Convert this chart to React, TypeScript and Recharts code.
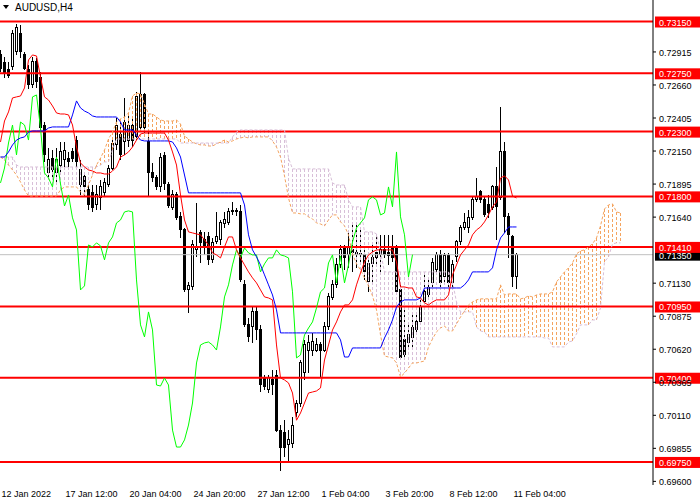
import React from 'react';
import { ComposedChart, Bar, Line, XAxis, YAxis, ReferenceLine } from 'recharts';

// ---- candles (AUDUSD H4) ----
const opens = [
  0.72892, 0.72830, 0.72776, 0.72799, 0.72915, 0.73061, 0.72892, 0.72776, 0.72660, 0.72838,
  0.72714, 0.72351, 0.71988, 0.72096, 0.71988, 0.72042, 0.72081, 0.72096, 0.72143, 0.72235,
  0.71888, 0.71950, 0.71850, 0.71827, 0.71734, 0.71788, 0.71827, 0.71888, 0.72019, 0.72197,
  0.72274, 0.72220, 0.72235, 0.72351, 0.72259, 0.72328, 0.72583, 0.72220, 0.71988, 0.71942,
  0.71873, 0.72112, 0.71888, 0.71711, 0.71811, 0.71642, 0.71541, 0.71078, 0.71101, 0.71387,
  0.71518, 0.71464, 0.71487, 0.71310, 0.71448, 0.71464, 0.71587, 0.71595, 0.71680, 0.71688,
  0.71680, 0.71117, 0.70808, 0.70792, 0.70908, 0.70769, 0.70398, 0.70306, 0.70383, 0.70421,
  0.69996, 0.69981, 0.69881, 0.69896, 0.70128, 0.70205, 0.70444, 0.70614, 0.70614, 0.70614,
  0.70653, 0.70614, 0.70792, 0.71016, 0.71117, 0.71271, 0.71402, 0.71348, 0.71387, 0.71364,
  0.71356, 0.71348, 0.71140, 0.71279, 0.71364, 0.71348, 0.71387, 0.71364, 0.71402, 0.71402,
  0.71078, 0.70692, 0.70669, 0.70707, 0.70769, 0.70831, 0.70985, 0.71039, 0.71132, 0.71232,
  0.71348, 0.71178, 0.71340, 0.71132, 0.71333, 0.71448, 0.71557, 0.71557, 0.71634, 0.71773,
  0.71834, 0.71773, 0.71734, 0.71711, 0.71873, 0.71788, 0.72143, 0.71642, 0.71487, 0.71178,
];
const highs = [
  0.72930, 0.72876, 0.72838, 0.73084, 0.73131, 0.73123, 0.72915, 0.72814, 0.72876, 0.72868,
  0.72760, 0.72374, 0.72174, 0.72158, 0.72174, 0.72220, 0.72220, 0.72143, 0.72174, 0.72266,
  0.72081, 0.71988, 0.71911, 0.71888, 0.71888, 0.71927, 0.71942, 0.72042, 0.72235, 0.72405,
  0.72390, 0.72560, 0.72429, 0.72405, 0.72606, 0.72760, 0.72598, 0.72297, 0.72058, 0.71965,
  0.72135, 0.72143, 0.71911, 0.71850, 0.71834, 0.71680, 0.71557, 0.71140, 0.71464, 0.71750,
  0.71541, 0.71526, 0.71526, 0.71479, 0.71680, 0.71618, 0.71680, 0.71711, 0.71757, 0.71711,
  0.71734, 0.71155, 0.70862, 0.70947, 0.70947, 0.70808, 0.70421, 0.70421, 0.70460, 0.70460,
  0.70035, 0.70072, 0.69996, 0.70097, 0.70228, 0.70537, 0.70692, 0.70730, 0.70746, 0.70707,
  0.70676, 0.70831, 0.71055, 0.71155, 0.71325, 0.71425, 0.71425, 0.71526, 0.71603, 0.71580,
  0.71557, 0.71402, 0.71325, 0.71425, 0.71503, 0.71503, 0.71503, 0.71503, 0.71503, 0.71425,
  0.71117, 0.70924, 0.70831, 0.70885, 0.70908, 0.71016, 0.71217, 0.71155, 0.71325, 0.71371,
  0.71387, 0.71364, 0.71364, 0.71310, 0.71464, 0.71580, 0.71672, 0.71696, 0.71796, 0.71942,
  0.71850, 0.71796, 0.71811, 0.71888, 0.72027, 0.72490, 0.72220, 0.71672, 0.71503, 0.71360,
];
const lows = [
  0.72760, 0.72714, 0.72714, 0.72776, 0.72892, 0.72868, 0.72776, 0.72629, 0.72637, 0.72637,
  0.72313, 0.72066, 0.71942, 0.71942, 0.71911, 0.71988, 0.72027, 0.72019, 0.72066, 0.72019,
  0.71811, 0.71796, 0.71696, 0.71680, 0.71696, 0.71696, 0.71796, 0.71873, 0.72004, 0.72158,
  0.72081, 0.72120, 0.72181, 0.72181, 0.72235, 0.72297, 0.72289, 0.71803, 0.71911, 0.71850,
  0.71834, 0.71850, 0.71711, 0.71696, 0.71618, 0.71479, 0.71063, 0.70900, 0.71078, 0.71333,
  0.71286, 0.71348, 0.71271, 0.71286, 0.71433, 0.71425, 0.71557, 0.71580, 0.71657, 0.71649,
  0.71140, 0.70792, 0.70676, 0.70669, 0.70692, 0.70290, 0.70306, 0.70282, 0.70267, 0.69981,
  0.69680, 0.69788, 0.69750, 0.69858, 0.70097, 0.70174, 0.70383, 0.70436, 0.70568, 0.70599,
  0.70398, 0.70599, 0.70769, 0.71001, 0.71093, 0.71248, 0.71232, 0.71248, 0.71217, 0.71248,
  0.71271, 0.71155, 0.71063, 0.71140, 0.71271, 0.71217, 0.71325, 0.71271, 0.71294, 0.71039,
  0.70537, 0.70537, 0.70614, 0.70630, 0.70730, 0.70808, 0.70962, 0.71001, 0.71101, 0.71217,
  0.71078, 0.71117, 0.71101, 0.71078, 0.71294, 0.71425, 0.71541, 0.71518, 0.71618, 0.71757,
  0.71750, 0.71642, 0.71634, 0.71696, 0.71464, 0.71773, 0.71518, 0.71325, 0.71101, 0.71086,
];
const closes = [
  0.72791, 0.72760, 0.72730, 0.73061, 0.73100, 0.72915, 0.72791, 0.72660, 0.72838, 0.72683,
  0.72328, 0.72120, 0.72081, 0.72004, 0.72081, 0.72143, 0.72158, 0.72073, 0.72096, 0.72066,
  0.72004, 0.71873, 0.71734, 0.71711, 0.71811, 0.71873, 0.71904, 0.72019, 0.72212, 0.72351,
  0.72120, 0.72374, 0.72351, 0.72235, 0.72568, 0.72583, 0.72328, 0.71981, 0.71942, 0.71873,
  0.72104, 0.71896, 0.71726, 0.71811, 0.71634, 0.71541, 0.71078, 0.71109, 0.71425, 0.71410,
  0.71441, 0.71418, 0.71310, 0.71441, 0.71487, 0.71595, 0.71618, 0.71680, 0.71688, 0.71680,
  0.71155, 0.70808, 0.70715, 0.70908, 0.70769, 0.70344, 0.70336, 0.70398, 0.70344, 0.69996,
  0.69865, 0.69865, 0.69920, 0.70035, 0.70205, 0.70514, 0.70653, 0.70669, 0.70676, 0.70653,
  0.70614, 0.70792, 0.71024, 0.71117, 0.71271, 0.71387, 0.71325, 0.71402, 0.71364, 0.71348,
  0.71348, 0.71217, 0.71279, 0.71325, 0.71325, 0.71387, 0.71348, 0.71340, 0.71325, 0.71063,
  0.70553, 0.70576, 0.70730, 0.70784, 0.70831, 0.70939, 0.71063, 0.71093, 0.71286, 0.71348,
  0.71132, 0.71340, 0.71132, 0.71271, 0.71448, 0.71557, 0.71595, 0.71634, 0.71773, 0.71796,
  0.71773, 0.71657, 0.71672, 0.71873, 0.71719, 0.72143, 0.71642, 0.71503, 0.71178, 0.71350,
];

// ---- Ichimoku ----
const tenkan = [
  0.72220, 0.72382, 0.72452, 0.72560, 0.72568, 0.72575, 0.72637, 0.72853, 0.72892, 0.72884,
  0.72722, 0.72568, 0.72544, 0.72498, 0.72444, 0.72436, 0.72436, 0.72429, 0.72351, 0.72181,
  0.72058, 0.72027, 0.72004, 0.71996, 0.71981, 0.71981, 0.71973, 0.71973, 0.71996, 0.72027,
  0.72104, 0.72120, 0.72143, 0.72181, 0.72235, 0.72282, 0.72289, 0.72289, 0.72289, 0.72289,
  0.72289, 0.72289, 0.72235, 0.72143, 0.72042, 0.71811, 0.71618, 0.71526, 0.71518, 0.71510,
  0.71503, 0.71464, 0.71425, 0.71364, 0.71348, 0.71325, 0.71410, 0.71487, 0.71487, 0.71387,
  0.71325, 0.71271, 0.71217, 0.71171, 0.71132, 0.71078, 0.71024, 0.71016, 0.71001, 0.70653,
  0.70398, 0.70383, 0.70360, 0.70282, 0.70072, 0.70128, 0.70205, 0.70282, 0.70290, 0.70298,
  0.70321, 0.70537, 0.70653, 0.70769, 0.70831, 0.70908, 0.70962, 0.70962, 0.71001, 0.71117,
  0.71209, 0.71294, 0.71348, 0.71371, 0.71387, 0.71387, 0.71387, 0.71387, 0.71387, 0.71294,
  0.71101, 0.71101, 0.71093, 0.71093, 0.71024, 0.71016, 0.70978, 0.70962, 0.70985, 0.71001,
  0.71001, 0.71001, 0.71039, 0.71194, 0.71271, 0.71348, 0.71387, 0.71425, 0.71503, 0.71541,
  0.71564, 0.71603, 0.71657, 0.71719, 0.71757, 0.71942, 0.71958, 0.71927, 0.71803, 0.71788,
];
const kijun = [
  0.72104, 0.72104, 0.72143, 0.72197, 0.72235, 0.72251, 0.72259, 0.72297, 0.72305, 0.72305,
  0.72305, 0.72305, 0.72328, 0.72336, 0.72336, 0.72336, 0.72336, 0.72336, 0.72429, 0.72537,
  0.72483, 0.72459, 0.72444, 0.72421, 0.72413, 0.72413, 0.72413, 0.72413, 0.72413, 0.72413,
  0.72374, 0.72313, 0.72313, 0.72313, 0.72274, 0.72235, 0.72228, 0.72228, 0.72228, 0.72228,
  0.72228, 0.72228, 0.72228, 0.72220, 0.72174, 0.72104, 0.71965, 0.71827, 0.71827, 0.71827,
  0.71827, 0.71827, 0.71827, 0.71827, 0.71827, 0.71827, 0.71827, 0.71827, 0.71827, 0.71827,
  0.71827, 0.71734, 0.71503, 0.71387, 0.71333, 0.71271, 0.71194, 0.71117, 0.71039, 0.70924,
  0.70746, 0.70746, 0.70746, 0.70746, 0.70746, 0.70746, 0.70746, 0.70746, 0.70746, 0.70746,
  0.70746, 0.70746, 0.70746, 0.70746, 0.70746, 0.70692, 0.70560, 0.70560, 0.70630, 0.70630,
  0.70630, 0.70630, 0.70630, 0.70630, 0.70630, 0.70630, 0.70707, 0.70769, 0.70846, 0.70947,
  0.70985, 0.71001, 0.71001, 0.71001, 0.71001, 0.71016, 0.71093, 0.71093, 0.71093, 0.71093,
  0.71093, 0.71093, 0.71093, 0.71093, 0.71093, 0.71093, 0.71117, 0.71155, 0.71217, 0.71217,
  0.71217, 0.71217, 0.71217, 0.71248, 0.71387, 0.71479, 0.71518, 0.71564, 0.71564, 0.71564,
];
const senkouA = [
  0.72104, 0.72081, 0.72042, 0.72004, 0.71965, 0.71911, 0.71850, 0.71803, 0.71803, 0.71803,
  0.71803, 0.71803, 0.71803, 0.71803, 0.71803, 0.71850, 0.71873, 0.71873, 0.71873, 0.71873,
  0.71834, 0.71811, 0.71888, 0.71965, 0.72042, 0.72096, 0.72158, 0.72243, 0.72297, 0.72374,
  0.72398, 0.72413, 0.72444, 0.72575, 0.72598, 0.72591, 0.72513, 0.72436, 0.72436, 0.72413,
  0.72390, 0.72382, 0.72382, 0.72382, 0.72390, 0.72359, 0.72266, 0.72243, 0.72220, 0.72205,
  0.72197, 0.72197, 0.72189, 0.72189, 0.72205, 0.72220, 0.72235, 0.72220, 0.72228, 0.72243,
  0.72251, 0.72259, 0.72251, 0.72259, 0.72259, 0.72259, 0.72259, 0.72259, 0.72228, 0.72181,
  0.72104, 0.71958, 0.71788, 0.71672, 0.71672, 0.71665, 0.71665, 0.71642, 0.71626, 0.71595,
  0.71587, 0.71572, 0.71618, 0.71657, 0.71657, 0.71603, 0.71572, 0.71503, 0.71356, 0.71279,
  0.71232, 0.71171, 0.71109, 0.71032, 0.70924, 0.70730, 0.70568, 0.70560, 0.70553, 0.70514,
  0.70406, 0.70436, 0.70475, 0.70514, 0.70514, 0.70522, 0.70529, 0.70638, 0.70699, 0.70754,
  0.70784, 0.70800, 0.70761, 0.70761, 0.70815, 0.70869, 0.70916, 0.70962, 0.70985, 0.71001,
  0.71009, 0.71009, 0.71009, 0.71009, 0.71009, 0.71117, 0.71039, 0.71047, 0.71047, 0.71047,
  0.71009, 0.71016, 0.71032, 0.71024, 0.71039, 0.71047, 0.71047, 0.71047, 0.71063, 0.71140,
  0.71178, 0.71217, 0.71248, 0.71286, 0.71356, 0.71379, 0.71387, 0.71410, 0.71433, 0.71479,
  0.71572, 0.71703, 0.71734, 0.71742, 0.71680, 0.71672,
];
const senkouB = [
  0.72104, 0.72104, 0.72104, 0.72104, 0.72042, 0.72027, 0.72027, 0.72027, 0.72027, 0.72027,
  0.72027, 0.72027, 0.72027, 0.72027, 0.72027, 0.72027, 0.72027, 0.72027, 0.72027, 0.72027,
  0.72027, 0.72027, 0.72027, 0.72027, 0.72027, 0.72042, 0.72066, 0.72066, 0.72158, 0.72243,
  0.72243, 0.72243, 0.72243, 0.72243, 0.72243, 0.72243, 0.72243, 0.72243, 0.72243, 0.72243,
  0.72243, 0.72243, 0.72243, 0.72243, 0.72243, 0.72212, 0.72212, 0.72212, 0.72212, 0.72212,
  0.72212, 0.72212, 0.72212, 0.72212, 0.72212, 0.72212, 0.72212, 0.72212, 0.72259, 0.72297,
  0.72313, 0.72313, 0.72313, 0.72313, 0.72313, 0.72313, 0.72313, 0.72313, 0.72313, 0.72313,
  0.72313, 0.72313, 0.72096, 0.72012, 0.72012, 0.72012, 0.72012, 0.72012, 0.72012, 0.72012,
  0.72012, 0.72012, 0.72012, 0.71904, 0.71888, 0.71888, 0.71888, 0.71773, 0.71719, 0.71719,
  0.71719, 0.71526, 0.71526, 0.71526, 0.71510, 0.71371, 0.71217, 0.71217, 0.71217, 0.71217,
  0.71217, 0.71217, 0.71217, 0.71217, 0.71217, 0.71217, 0.71217, 0.71217, 0.71217, 0.71217,
  0.71217, 0.71217, 0.71217, 0.71140, 0.70985, 0.70908, 0.70908, 0.70908, 0.70908, 0.70792,
  0.70761, 0.70754, 0.70715, 0.70715, 0.70715, 0.70715, 0.70715, 0.70715, 0.70715, 0.70715,
  0.70715, 0.70715, 0.70715, 0.70715, 0.70715, 0.70715, 0.70707, 0.70707, 0.70638, 0.70638,
  0.70638, 0.70638, 0.70676, 0.70684, 0.70738, 0.70808, 0.70808, 0.70808, 0.70846, 0.70846,
  0.70939, 0.71294, 0.71333, 0.71433, 0.71441, 0.71441,
];
const chikouShift = 26;

// ---- levels & axes ----
const levels = [0.7315, 0.7275, 0.723, 0.718, 0.7141, 0.7095, 0.704, 0.6975];
const currentPrice = 0.7135;
const priceTicks = [
  0.696, 0.69855, 0.7011, 0.70365, 0.7062, 0.70875, 0.7113, 0.7164, 0.71895, 0.7215,
  0.72405, 0.7266, 0.72915,
];
const priceDomain = [0.69572, 0.73316];
const timeTicks = [0, 16, 32, 48, 64, 80, 96, 112, 128];
const timeLabels = [
  '12 Jan 2022', '17 Jan 12:00', '20 Jan 04:00', '24 Jan 20:00', '27 Jan 12:00',
  '1 Feb 04:00', '3 Feb 20:00', '8 Feb 12:00', '11 Feb 04:00',
];
const barDomain = [-0.125, 163.125];

const FONT = '"Liberation Sans", Arial, sans-serif';

const rows = senkouA.map((a, i) => {
  const b = senkouB[i];
  const has = i < closes.length;
  return {
    i,
    candle: has ? [lows[i], highs[i]] : null,
    o: has ? opens[i] : null,
    h: has ? highs[i] : null,
    l: has ? lows[i] : null,
    c: has ? closes[i] : null,
    tenkan: has ? tenkan[i] : null,
    kijun: has ? kijun[i] : null,
    chikou: i + chikouShift < closes.length ? closes[i + chikouShift] : null,
    a,
    b,
    cloud: [Math.min(a, b), Math.max(a, b)],
    up: a >= b,
  };
});

const centerOf = (x: number, width: number) => Math.round(x + width / 2 - 0.5) + 0.5;

const Candle = (props: any) => {
  const { x, y, width, height, payload } = props;
  if (!payload || payload.o == null || x == null || y == null) return null;
  const { o, h, l, c } = payload;
  const top = Math.min(y, y + height);
  const H = Math.abs(height);
  const cx = centerOf(x, width);
  const py = (p: number) => (h === l ? top : top + ((h - p) / (h - l)) * H);
  const bodyTop = py(Math.max(o, c));
  const bodyBot = py(Math.min(o, c));
  const bull = c >= o;
  return (
    <g shapeRendering="crispEdges">
      <line x1={cx} x2={cx} y1={top} y2={top + H} stroke="#000" strokeWidth={1} />
      <rect
        x={cx - 1}
        y={bodyTop}
        width={2}
        height={Math.max(bodyBot - bodyTop, 0.5)}
        fill={bull ? '#fff' : '#000'}
        stroke="#000"
        strokeWidth={1}
      />
    </g>
  );
};

const CloudHatch = (props: any) => {
  const { x, y, width, height, payload } = props;
  if (!payload || x == null || y == null) return null;
  const cx = centerOf(x, width);
  const top = Math.min(y, y + height);
  const H = Math.abs(height);
  return (
    <line
      x1={cx}
      x2={cx}
      y1={top}
      y2={top + H}
      stroke={payload.up ? '#F4A460' : '#D8BFD8'}
      strokeWidth={1}
      strokeDasharray="3 2"
      shapeRendering="crispEdges"
    />
  );
};

const XTick = (props: any) => {
  const { x, payload } = props;
  const idx = timeTicks.indexOf(payload.value);
  return (
    <text x={x + 1} y={497} fontSize={9} fontFamily={FONT} fill="#000" textAnchor="start">
      {timeLabels[idx]}
    </text>
  );
};

const YTick = (props: any) => {
  const { x, y, payload } = props;
  return (
    <text x={x} y={y} dy={4} fontSize={9} fontFamily={FONT} fill="#000" textAnchor="start">
      {Number(payload.value).toFixed(5)}
    </text>
  );
};

const PriceTag = (props: any) => {
  const { viewBox, price, bg } = props;
  if (!viewBox) return null;
  const left = viewBox.x + viewBox.width + 2;
  const y = viewBox.y;
  return (
    <g>
      <rect x={left} y={y - 5} width={45} height={11} fill={bg} />
      <text x={left + 4} y={y + 4} fontSize={9} fontFamily={FONT} fill="#fff">
        {price.toFixed(5)}
      </text>
    </g>
  );
};

export default function App() {
  return (
    <div style={{ position: 'absolute', left: 0, top: 0, width: 700, height: 500, background: '#fff' }}>
      <ComposedChart
        width={700}
        height={500}
        data={rows}
        margin={{ top: 0, right: 0, bottom: 0, left: 0 }}
      >
        <XAxis
          xAxisId="main"
          dataKey="i"
          type="number"
          domain={barDomain}
          allowDataOverflow
          ticks={timeTicks}
          interval={0}
          tick={<XTick />}
          tickSize={4}
          tickMargin={2}
          height={15}
          axisLine={{ stroke: '#000' }}
          tickLine={{ stroke: '#000' }}
        />
        <XAxis xAxisId="cloud" dataKey="i" type="number" domain={barDomain} allowDataOverflow hide />
        <YAxis
          orientation="right"
          type="number"
          domain={priceDomain}
          allowDataOverflow
          ticks={priceTicks}
          interval={0}
          width={47}
          tick={<YTick />}
          tickSize={3}
          tickMargin={3}
          axisLine={{ stroke: '#000' }}
          tickLine={{ stroke: '#000' }}
        />
        <ReferenceLine
          xAxisId="main"
          y={currentPrice}
          stroke="#C0C0C0"
          strokeWidth={1}
          label={<PriceTag price={currentPrice} bg="#000" />}
        />
        {levels.map((lv) => (
          <ReferenceLine
            key={lv}
            xAxisId="main"
            y={lv}
            stroke="#FF0000"
            strokeWidth={2}
            label={<PriceTag price={lv} bg="#FF0000" />}
          />
        ))}
        <Bar xAxisId="main" dataKey="candle" barSize={3} shape={<Candle />} isAnimationActive={false} />
        <Bar xAxisId="cloud" dataKey="cloud" barSize={1} shape={<CloudHatch />} isAnimationActive={false} />
        <Line xAxisId="main" dataKey="a" stroke="#F4A460" strokeWidth={1} strokeDasharray="3 2" dot={false} activeDot={false} isAnimationActive={false} />
        <Line xAxisId="main" dataKey="b" stroke="#D8BFD8" strokeWidth={1} strokeDasharray="3 2" dot={false} activeDot={false} isAnimationActive={false} />
        <Line xAxisId="main" dataKey="chikou" stroke="#00FF00" strokeWidth={1} dot={false} activeDot={false} isAnimationActive={false} />
        <Line xAxisId="main" dataKey="kijun" stroke="#0000FF" strokeWidth={1} dot={false} activeDot={false} isAnimationActive={false} />
        <Line xAxisId="main" dataKey="tenkan" stroke="#FF0000" strokeWidth={1} dot={false} activeDot={false} isAnimationActive={false} />
      </ComposedChart>
      <svg width={100} height={14} style={{ position: 'absolute', left: 0, top: 0 }}>
        <polygon points="3,5 9,5 6,9" fill="#000" />
        <text x={15} y={11} fontSize={10} fontFamily={FONT} fill="#000">
          AUDUSD,H4
        </text>
      </svg>
    </div>
  );
}
